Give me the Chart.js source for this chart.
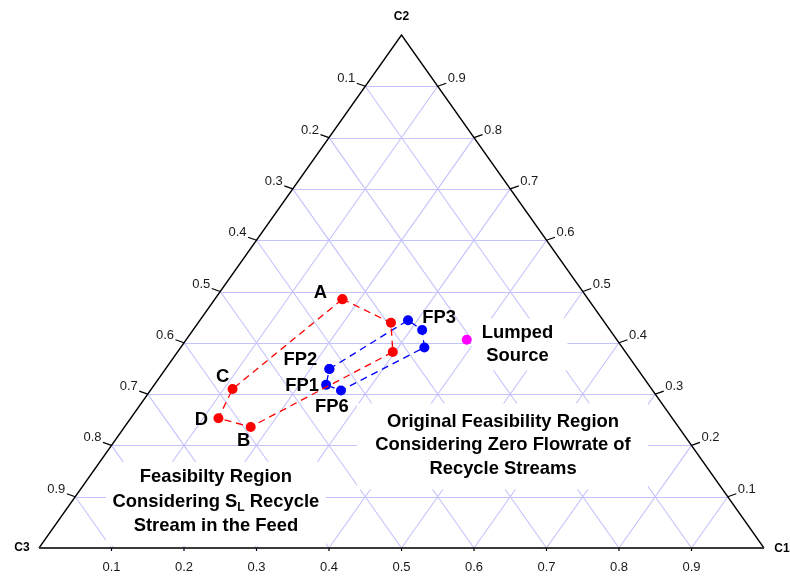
<!DOCTYPE html>
<html>
<head>
<meta charset="utf-8">
<title>Ternary diagram - feasibility regions</title>
<script src="https://cdn.jsdelivr.net/npm/chart.js@4.4.1/dist/chart.umd.min.js"></script>
<style>
    html, body { margin: 0; padding: 0; background: #fff; }
    #wrap { width: 790px; height: 577px; }
</style>
</head>
<body>
<div id="wrap"><canvas id="ternaryChart" width="790" height="577"></canvas></div>
<script>
// Compositions (mass fractions of C1, C2, C3)
const regionLabels = ['A', '', '', 'B', 'D', 'C'];
const regionC1 = [0.176, 0.266, 0.297, 0.174, 0.121, 0.112];
const regionC2 = [0.485, 0.439, 0.382, 0.236, 0.253, 0.310];
const regionC3 = [0.339, 0.295, 0.321, 0.590, 0.626, 0.578];

const fpLabels = ['FP2', '', 'FP3', '', 'FP6', 'FP1'];
const fpC1 = [0.226, 0.287, 0.316, 0.336, 0.263, 0.237];
const fpC2 = [0.349, 0.444, 0.425, 0.391, 0.307, 0.318];
const fpC3 = [0.425, 0.269, 0.259, 0.273, 0.430, 0.445];

const sourceC1 = [0.387];
const sourceC2 = [0.406];
const sourceC3 = [0.207];

const gridTicks = [0.1, 0.2, 0.3, 0.4, 0.5, 0.6, 0.7, 0.8, 0.9];

// ternary -> cartesian (C3 at origin, C1 at (1,0), C2 at apex)
const tern = (c1, c2) => ({ x: c1 + c2 / 2, y: c2 });
const polygon = (a, b) => {
    const pts = a.map((v, i) => tern(v, b[i]));
    pts.push(pts[0]);
    return pts;
};

const FONT = '"Liberation Sans", Arial, sans-serif';
const GRID_COLOR = '#c2c2fc';

// label placement, pixel offsets from the point
const labelOffsets = {
    'A': [-22, -6], 'B': [-7, 14], 'C': [-10, -12], 'D': [-17, 2],
    'FP1': [-24, 1], 'FP2': [-29, -9], 'FP3': [17, -12], 'FP6': [-9, 16]
};

// text blocks with white backgrounds (anchor in plot units, box in px)
const notes = [
    { x: 0.244, y: 0.090, gap: 24.5, box: [-110, -40, 110, 44],
      lines: [[{ t: 'Feasibilty Region' }],
              [{ t: 'Considering S' }, { t: 'L', sub: true }, { t: ' Recycle' }],
              [{ t: 'Stream in the Feed' }]] },
    { x: 0.640, y: 0.200, gap: 23.5, box: [-146, -42, 145, 44],
      lines: [[{ t: 'Original Feasibility Region' }],
              [{ t: 'Considering Zero Flowrate of' }],
              [{ t: 'Recycle Streams' }]] },
    { x: 0.660, y: 0.397, gap: 22.7, box: [-46, -26, 50, 26],
      lines: [[{ t: 'Lumped' }], [{ t: 'Source' }]] }
];

function drawRich(ctx, segs, cx, cy) {
    const main = 'bold 18.4px ' + FONT, small = 'bold 12px ' + FONT;
    let w = 0;
    segs.forEach(s => { ctx.font = s.sub ? small : main; w += ctx.measureText(s.t).width; });
    let x = cx - w / 2;
    ctx.textAlign = 'left';
    segs.forEach(s => {
        ctx.font = s.sub ? small : main;
        ctx.fillText(s.t, x, s.sub ? cy + 6 : cy);
        x += ctx.measureText(s.t).width;
    });
}

const ternaryFrame = {
    id: 'ternaryFrame',
    beforeDatasetsDraw(chart) {
        const { ctx, scales: { x, y } } = chart;
        const P = p => [x.getPixelForValue(p.x), y.getPixelForValue(p.y)];
        const seg = (a, b, snap) => {
            let [x1, y1] = P(a), [x2, y2] = P(b);
            if (snap) { y1 = y2 = Math.round(y1) + 0.5; }   // crisp horizontals
            ctx.moveTo(x1, y1); ctx.lineTo(x2, y2);
        };
        ctx.save();
        ctx.strokeStyle = GRID_COLOR;
        ctx.lineWidth = 1.1;
        ctx.beginPath();
        gridTicks.forEach(v => {
            seg(tern(0, v), tern(1 - v, v), true);
            seg(tern(v, 0), tern(v, 1 - v));
            seg(tern(1 - v, 0), tern(0, 1 - v));
        });
        ctx.stroke();
        // white boxes behind the notes
        ctx.fillStyle = '#fff';
        notes.forEach(n => {
            const [cx, cy] = P(n);
            ctx.fillRect(cx + n.box[0], cy + n.box[1], n.box[2] - n.box[0], n.box[3] - n.box[1]);
        });
        ctx.restore();
    },
    afterDatasetsDraw(chart) {
        const { ctx, scales: { x, y } } = chart;
        const P = p => [x.getPixelForValue(p.x), y.getPixelForValue(p.y)];
        const [lx, ly] = P(tern(0, 0)), [rx, ry] = P(tern(1, 0)), [tx, ty] = P(tern(0, 1));
        ctx.save();
        // triangle edges
        ctx.strokeStyle = '#000';
        ctx.lineWidth = 1.3;
        ctx.beginPath();
        ctx.moveTo(lx, ly); ctx.lineTo(tx, ty); ctx.lineTo(rx, ry);
        ctx.stroke();
        ctx.strokeStyle = '#3a3a3a';
        ctx.lineWidth = 2;
        ctx.beginPath();
        ctx.moveTo(lx, ly); ctx.lineTo(rx, ry);
        ctx.stroke();

        // ticks and tick labels
        ctx.lineWidth = 1.2;
        ctx.strokeStyle = '#000';
        ctx.fillStyle = '#1a1a1a';
        ctx.font = '13px ' + FONT;
        ctx.textBaseline = 'middle';
        gridTicks.forEach(v => {
            let [px, py] = P(tern(0, v));
            ctx.beginPath(); ctx.moveTo(px, py); ctx.lineTo(px - 8.5, py - 3); ctx.stroke();
            ctx.textAlign = 'right';
            ctx.fillText((1 - v).toFixed(1), px - 10, py - 7.5);

            [px, py] = P(tern(1 - v, v));
            ctx.beginPath(); ctx.moveTo(px, py); ctx.lineTo(px + 8.5, py - 3); ctx.stroke();
            ctx.textAlign = 'left';
            ctx.fillText(v.toFixed(1), px + 10, py - 7.5);

            [px, py] = P(tern(v, 0));
            ctx.beginPath(); ctx.moveTo(px, py); ctx.lineTo(px, py + 3); ctx.stroke();
            ctx.textAlign = 'center';
            ctx.fillText(v.toFixed(1), px, py + 19);
        });

        // vertex names
        ctx.fillStyle = '#000';
        ctx.font = 'bold 12px ' + FONT;
        ctx.textAlign = 'center';
        ctx.fillText('C2', tx, ty - 18);
        ctx.fillText('C3', lx - 17, ly);
        ctx.fillText('C1', rx + 18, ry + 1);

        // point labels
        ctx.font = 'bold 18.4px ' + FONT;
        const labelSet = (labels, c1, c2) => labels.forEach((lab, i) => {
            if (!lab) return;
            const [px, py] = P(tern(c1[i], c2[i]));
            const o = labelOffsets[lab];
            ctx.fillText(lab, px + o[0], py + o[1]);
        });
        labelSet(regionLabels, regionC1, regionC2);
        labelSet(fpLabels, fpC1, fpC2);

        // notes
        notes.forEach(n => {
            const [cx, cy] = P(n);
            const top = cy - n.gap * (n.lines.length - 1) / 2;
            n.lines.forEach((segs, i) => drawRich(ctx, segs, cx, top + i * n.gap));
        });
        ctx.restore();
    }
};

const lineStyle = (color) => ({
    showLine: true,
    borderColor: color,
    borderWidth: 1.3,
    borderDash: [7, 5],
    pointRadius: 5,
    pointBorderWidth: 0,
    pointBackgroundColor: color,
    fill: false
});

new Chart(document.getElementById('ternaryChart').getContext('2d'), {
    type: 'scatter',
    data: {
        datasets: [
            { label: 'SL recycle region', data: polygon(regionC1, regionC2), ...lineStyle('#ff0000') },
            { label: 'Zero recycle region', data: polygon(fpC1, fpC2), ...lineStyle('#0000ff') },
            { label: 'Lumped source', data: sourceC1.map((v, i) => tern(v, sourceC2[i])),
              pointRadius: 5, pointBorderWidth: 0, pointBackgroundColor: '#ff00ff' }
        ]
    },
    options: {
        responsive: false,
        animation: false,
        events: [],
        layout: { padding: { left: 39, right: 26, top: 35, bottom: 29 } },
        scales: {
            x: { type: 'linear', min: 0, max: 1, display: false },
            y: { type: 'linear', min: 0, max: 1, display: false }
        },
        plugins: { legend: { display: false }, tooltip: { enabled: false } }
    },
    plugins: [ternaryFrame]
});
</script>
</body>
</html>
